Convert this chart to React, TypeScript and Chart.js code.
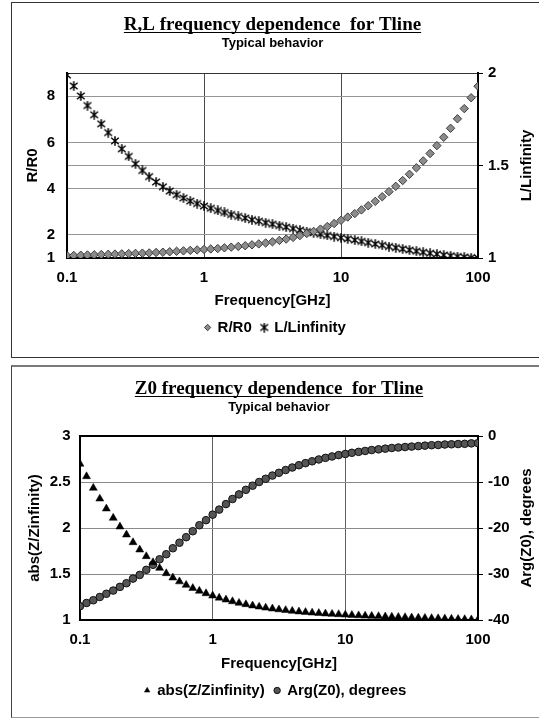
import React, { useEffect, useRef } from 'react';
import { Chart, registerables } from 'chart.js';

Chart.register(...registerables);

// ---- data ----
const freqGHz = [
  0.1, 0.112, 0.126, 0.141, 0.158, 0.178, 0.2, 0.224, 0.251, 0.282,
  0.316, 0.355, 0.398, 0.447, 0.501, 0.562, 0.631, 0.708, 0.794, 0.891,
  1, 1.12, 1.26, 1.41, 1.58, 1.78, 2, 2.24, 2.51, 2.82,
  3.16, 3.55, 3.98, 4.47, 5.01, 5.62, 6.31, 7.08, 7.94, 8.91,
  10, 11.2, 12.6, 14.1, 15.8, 17.8, 20, 22.4, 25.1, 28.2,
  31.6, 35.5, 39.8, 44.7, 50.1, 56.2, 63.1, 70.8, 79.4, 89.1,
  100,
];

const rOverR0 = [
  1.10, 1.11, 1.12, 1.13, 1.14, 1.15, 1.16, 1.17, 1.18, 1.19,
  1.20, 1.21, 1.22, 1.24, 1.25, 1.27, 1.29, 1.31, 1.33, 1.35,
  1.37, 1.39, 1.41, 1.44, 1.47, 1.50, 1.53, 1.57, 1.61, 1.65,
  1.70, 1.76, 1.82, 1.89, 1.97, 2.06, 2.15, 2.25, 2.36, 2.49,
  2.63, 2.77, 2.92, 3.08, 3.26, 3.45, 3.65, 3.87, 4.10, 4.35,
  4.62, 4.90, 5.20, 5.52, 5.86, 6.22, 6.61, 7.02, 7.46, 7.93,
  8.43,
];

const lOverLinf = [
  1.989, 1.930, 1.876, 1.824, 1.774, 1.725, 1.678, 1.633, 1.590, 1.549,
  1.509, 1.473, 1.440, 1.411, 1.385, 1.362, 1.342, 1.324, 1.308, 1.294,
  1.281, 1.269, 1.257, 1.246, 1.235, 1.225, 1.216, 1.207, 1.199, 1.191,
  1.183, 1.175, 1.167, 1.159, 1.151, 1.143, 1.136, 1.129, 1.122, 1.116,
  1.110, 1.104, 1.097, 1.090, 1.083, 1.076, 1.069, 1.062, 1.056, 1.049,
  1.043, 1.037, 1.031, 1.026, 1.021, 1.016, 1.012, 1.008, 1.005, 1.002,
  1.000,
];

const absZ = [
  2.696, 2.561, 2.435, 2.318, 2.210, 2.109, 2.014, 1.927, 1.844, 1.764,
  1.692, 1.626, 1.565, 1.507, 1.460, 1.418, 1.380, 1.346, 1.316, 1.289,
  1.264, 1.241, 1.221, 1.202, 1.185, 1.170, 1.156, 1.144, 1.133, 1.123,
  1.114, 1.106, 1.098, 1.091, 1.085, 1.079, 1.074, 1.069, 1.065, 1.061,
  1.057, 1.053, 1.049, 1.046, 1.043, 1.040, 1.037, 1.034, 1.031, 1.029,
  1.026, 1.024, 1.021, 1.019, 1.017, 1.014, 1.012, 1.010, 1.008, 1.005,
  1.003,
];

const argZ0 = [
  -37.0, -36.3, -35.7, -35.0, -34.3, -33.6, -32.8, -32.0, -31.0, -30.2,
  -29.1, -28.0, -26.8, -25.7, -24.4, -23.2, -22.0, -20.7, -19.4, -18.3,
  -17.1, -16.0, -14.8, -13.7, -12.7, -11.7, -10.8, -10.0, -9.3, -8.6,
  -8.0, -7.4, -6.85, -6.35, -5.9, -5.5, -5.1, -4.75, -4.45, -4.15,
  -3.9, -3.65, -3.45, -3.25, -3.05, -2.9, -2.75, -2.6, -2.5, -2.4,
  -2.3, -2.2, -2.1, -2.0, -1.95, -1.85, -1.8, -1.75, -1.7, -1.6,
  -1.55,
];

const xTicks = [0.1, 1, 10, 100];
const xTickLabels = ['0.1', '1', '10', '100'];
const rTicks = [1, 2, 4, 6, 8];
const lTicks = [1, 1.5, 2];
const absTicks = [1, 1.5, 2, 2.5, 3];
const argTicks = [-40, -30, -20, -10, 0];

// ---- styling ----
const SANS = '"Liberation Sans", Arial, Helvetica, sans-serif';
const SERIF = '"Liberation Serif", "Times New Roman", serif';
const tickFont = { family: SANS, size: 15, weight: 'bold' as const, lineHeight: 1.2 };
const CLEAR = 'rgba(0,0,0,0)';

const TITLE_SIZE = 19;
const TITLE_PAD_TOP = 12.5;

function makeStar(): HTMLCanvasElement {
  const c = document.createElement('canvas');
  c.width = 10;
  c.height = 10;
  const g = c.getContext('2d')!;
  g.strokeStyle = '#000';
  g.lineWidth = 1.5;
  g.beginPath();
  g.moveTo(5, 0.2);
  g.lineTo(5, 9.8);
  g.moveTo(1.2, 1.8);
  g.lineTo(8.8, 8.2);
  g.moveTo(8.8, 1.8);
  g.lineTo(1.2, 8.2);
  g.stroke();
  return c;
}

const underlinePlugin = {
  id: 'titleUnderline',
  afterDraw(chart: any) {
    const tb = chart.titleBlock;
    if (!tb) return;
    const ctx = chart.ctx;
    const text = chart.options.plugins.title.text as string;
    ctx.save();
    ctx.font = `bold ${TITLE_SIZE}px ${SERIF}`;
    ctx.textBaseline = 'middle';
    const w = ctx.measureText(text).width;
    const mid = tb.top + TITLE_PAD_TOP + TITLE_SIZE / 2;
    const base = mid + ctx.measureText('R').actualBoundingBoxDescent;
    const cx = (tb.left + tb.right) / 2;
    ctx.strokeStyle = '#000';
    ctx.lineWidth = 1;
    ctx.beginPath();
    ctx.moveTo(cx - w / 2, Math.round(base + 2) + 0.5);
    ctx.lineTo(cx + w / 2, Math.round(base + 2) + 0.5);
    ctx.stroke();
    ctx.restore();
  },
};

function rightTitlePlugin(text: string, x: number) {
  return {
    id: 'rightTitle',
    afterDraw(chart: any) {
      const ctx = chart.ctx;
      const a = chart.chartArea;
      ctx.save();
      ctx.translate(x, (a.top + a.bottom) / 2);
      ctx.rotate(-Math.PI / 2);
      ctx.font = `bold 15px ${SANS}`;
      ctx.fillStyle = '#000';
      ctx.textAlign = 'center';
      ctx.textBaseline = 'middle';
      ctx.fillText(text, 0, 0);
      ctx.restore();
    },
  };
}

function headerPlugins(title: string, subPadBottom: number) {
  return {
    title: {
      display: true,
      text: title,
      fullSize: false,
      color: '#000',
      font: { family: SERIF, size: TITLE_SIZE, weight: 'bold' as const, lineHeight: 1 },
      padding: { top: TITLE_PAD_TOP, bottom: 0 },
    },
    subtitle: {
      display: true,
      text: 'Typical behavior',
      fullSize: false,
      color: '#000',
      font: { family: SANS, size: 13, weight: 'bold' as const, lineHeight: 1.2 },
      padding: { top: 0.7, bottom: subPadBottom },
    },
    legend: {
      display: true,
      position: 'bottom' as const,
      labels: {
        usePointStyle: true,
        boxWidth: 5,
        boxHeight: 4.5,
        padding: 10,
        color: '#000',
        font: { family: SANS, size: 15, weight: 'bold' as const },
      },
    },
    tooltip: { enabled: false },
  };
}

function xScale(height: number, padding: number, gridColor: string) {
  return {
    type: 'logarithmic' as const,
    position: 'bottom' as const,
    min: 0.1,
    max: 100,
    afterBuildTicks: (s: any) => {
      s.ticks = xTicks.map((v) => ({ value: v }));
    },
    afterFit: (s: any) => {
      s.height = height;
    },
    ticks: {
      autoSkip: false,
      maxRotation: 0,
      padding,
      color: '#000',
      font: tickFont,
      callback: (_v: any, i: number) => xTickLabels[i],
    },
    grid: {
      drawTicks: false,
      color: (c: any) => (c.tick && (c.tick.value === 1 || c.tick.value === 10) ? gridColor : CLEAR),
      lineWidth: 1,
    },
    border: { display: true, color: '#000', width: 2 },
    title: {
      display: true,
      text: 'Frequency[GHz]',
      color: '#000',
      font: tickFont,
      padding: { top: 0, bottom: 0 },
    },
  };
}

export default function App() {
  const ref1 = useRef<HTMLCanvasElement>(null);
  const ref2 = useRef<HTMLCanvasElement>(null);

  useEffect(() => {
    const star = makeStar();

    const chart1 = new Chart(ref1.current as HTMLCanvasElement, {
      type: 'scatter',
      data: {
        datasets: [
          {
            label: 'R/R0',
            data: freqGHz.map((f, i) => ({ x: f, y: rOverR0[i] })),
            yAxisID: 'y',
            showLine: false,
            pointStyle: 'rectRot',
            pointRadius: 4.2,
            pointBackgroundColor: '#8c8c8c',
            pointBorderColor: '#3c3c3c',
            pointBorderWidth: 1,
            backgroundColor: '#8c8c8c',
            borderColor: '#3c3c3c',
          },
          {
            label: 'L/Linfinity',
            data: freqGHz.map((f, i) => ({ x: f, y: lOverLinf[i] })),
            yAxisID: 'y1',
            showLine: false,
            pointStyle: star,
            pointRadius: 5,
            pointBackgroundColor: '#000',
            pointBorderColor: '#000',
            pointBorderWidth: 1,
            backgroundColor: '#000',
            borderColor: '#000',
          },
        ],
      },
      options: {
        animation: false,
        responsive: false,
        events: [],
        layout: { padding: { top: 0, left: 0, right: 0, bottom: 12 } },
        plugins: headerPlugins('R,L frequency dependence  for Tline', 22.2) as any,
        scales: {
          x: xScale(52, 11, '#4a4a4a') as any,
          y: {
            type: 'linear',
            position: 'left',
            min: 1,
            max: 9,
            afterBuildTicks: (s: any) => {
              s.ticks = rTicks.map((v) => ({ value: v }));
            },
            afterFit: (s: any) => {
              s.width = 55;
            },
            ticks: { padding: 12, color: '#000', font: tickFont, callback: (v: any) => String(v) },
            grid: {
              drawTicks: false,
              color: (c: any) => (c.tick && c.tick.value > 1 ? '#959595' : CLEAR),
            },
            border: { display: true, color: '#000', width: 2 },
            title: {
              display: true,
              text: 'R/R0',
              color: '#000',
              font: tickFont,
              padding: { top: 12, bottom: 0 },
            },
          },
          y1: {
            type: 'linear',
            position: 'right',
            min: 1,
            max: 2,
            afterBuildTicks: (s: any) => {
              s.ticks = lTicks.map((v) => ({ value: v }));
            },
            afterFit: (s: any) => {
              s.width = 61;
            },
            ticks: { padding: 5, color: '#000', font: tickFont, callback: (v: any) => String(v) },
            grid: {
              drawOnChartArea: true,
              drawTicks: true,
              tickLength: 5,
              tickColor: '#000',
              tickWidth: 1,
              color: (c: any) =>
                c.tick && c.tick.value === 2 ? '#333' : c.tick && c.tick.value === 1.5 ? '#959595' : CLEAR,
            },
            border: { display: true, color: '#000', width: 2 },
          },
        },
      } as any,
      plugins: [underlinePlugin, rightTitlePlugin('L/Linfinity', 515)],
    });

    const chart2 = new Chart(ref2.current as HTMLCanvasElement, {
      type: 'scatter',
      data: {
        datasets: [
          {
            label: 'abs(Z/Zinfinity)',
            data: freqGHz.map((f, i) => ({ x: f, y: absZ[i] })),
            yAxisID: 'y',
            showLine: false,
            pointStyle: 'triangle',
            pointRadius: 4.6,
            pointBackgroundColor: '#000',
            pointBorderColor: '#000',
            pointBorderWidth: 0.5,
            backgroundColor: '#000',
            borderColor: '#000',
          },
          {
            label: 'Arg(Z0), degrees',
            data: freqGHz.map((f, i) => ({ x: f, y: argZ0[i] })),
            yAxisID: 'y1',
            showLine: false,
            pointStyle: 'circle',
            pointRadius: 3.8,
            pointBackgroundColor: '#555555',
            pointBorderColor: '#111',
            pointBorderWidth: 1,
            backgroundColor: '#555555',
            borderColor: '#111',
          },
        ],
      },
      options: {
        animation: false,
        responsive: false,
        events: [],
        layout: { padding: { top: 0, left: 0, right: 0, bottom: 9 } },
        plugins: headerPlugins('Z0 frequency dependence  for Tline', 21.2) as any,
        scales: {
          x: xScale(53, 11, '#606060') as any,
          y: {
            type: 'linear',
            position: 'left',
            min: 1,
            max: 3,
            afterBuildTicks: (s: any) => {
              s.ticks = absTicks.map((v) => ({ value: v }));
            },
            afterFit: (s: any) => {
              s.width = 68;
            },
            ticks: { padding: 9.5, color: '#000', font: tickFont, callback: (v: any) => String(v) },
            grid: {
              drawTicks: false,
              color: (c: any) =>
                c.tick && c.tick.value === 3 ? '#000' : c.tick && c.tick.value > 1 ? '#8a8a8a' : CLEAR,
              lineWidth: (c: any) => (c.tick && c.tick.value === 3 ? 2 : 1),
            },
            border: { display: true, color: '#000', width: 2 },
            title: {
              display: true,
              text: 'abs(Z/Zinfinity)',
              color: '#000',
              font: tickFont,
              padding: { top: 14, bottom: 0 },
            },
          },
          y1: {
            type: 'linear',
            position: 'right',
            min: -40,
            max: 0,
            afterBuildTicks: (s: any) => {
              s.ticks = argTicks.map((v) => ({ value: v }));
            },
            afterFit: (s: any) => {
              s.width = 61;
            },
            ticks: { padding: 5, color: '#000', font: tickFont, callback: (v: any) => String(v) },
            grid: {
              drawOnChartArea: false,
              drawTicks: true,
              tickLength: 5,
              tickColor: '#000',
              tickWidth: 1,
            },
            border: { display: true, color: '#000', width: 2 },
          },
        },
      } as any,
      plugins: [underlinePlugin, rightTitlePlugin('Arg(Z0), degrees', 515)],
    });

    return () => {
      chart1.destroy();
      chart2.destroy();
    };
  }, []);

  return (
    <div
      style={{
        position: 'absolute',
        left: 0,
        top: 0,
        width: 539,
        height: 719,
        overflow: 'hidden',
        background: '#fff',
      }}
    >
      <div
        style={{
          position: 'absolute',
          left: 11,
          top: 2,
          width: 560,
          height: 356,
          border: '1px solid #333',
          boxSizing: 'border-box',
        }}
      />
      <div
        style={{
          position: 'absolute',
          left: 11,
          top: 365,
          width: 560,
          height: 353,
          borderTop: '2px solid #7a7a7a',
          borderLeft: '1px solid #444',
          borderBottom: '1px solid #999',
          boxSizing: 'border-box',
        }}
      />
      <canvas
        ref={ref1}
        width={527}
        height={354}
        style={{ position: 'absolute', left: 12, top: 3, width: 527, height: 354 }}
      />
      <canvas
        ref={ref2}
        width={527}
        height={350}
        style={{ position: 'absolute', left: 12, top: 367, width: 527, height: 350 }}
      />
    </div>
  );
}
